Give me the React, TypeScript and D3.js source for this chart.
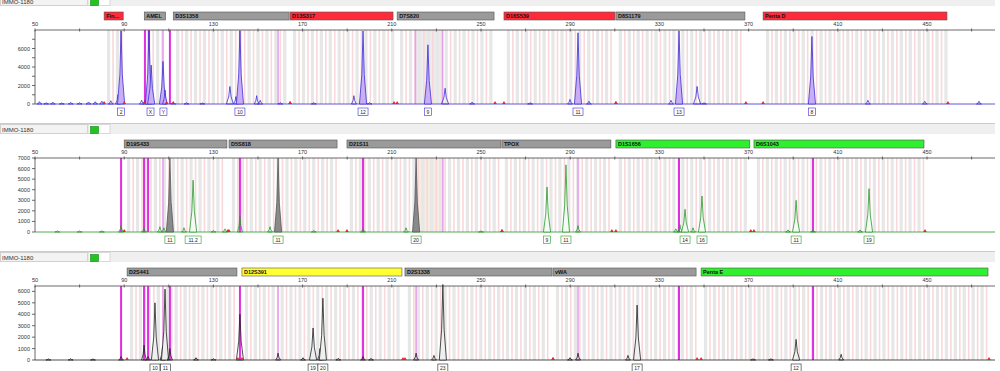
import * as d3 from "d3";

const W = 1000;
const H = 371;
const font = "Liberation Sans, Arial, sans-serif";

// [name, start bp, end bp, colour]
const blueLoci: [string, number, number, string][] = [
  ["Fin...", 81, 90, "red"],
  ["AMEL", 99, 109, "gray"],
  ["D3S1358", 112, 164.4, "gray"],
  ["D13S317", 164.4, 211, "red"],
  ["D7S820", 212.4, 256.3, "gray"],
  ["D16S539", 260.3, 310.5, "red"],
  ["D8S1179", 310.5, 368.8, "gray"],
  ["Penta D", 376.5, 459.4, "red"],
];
const greenLoci: [string, number, number, string][] = [
  ["D19S433", 90, 136.5, "gray"],
  ["D5S818", 137, 185.9, "gray"],
  ["D21S11", 189.9, 259.4, "gray"],
  ["TPOX", 259.4, 308.7, "gray"],
  ["D1S1656", 310.5, 371, "green"],
  ["D6S1043", 372.4, 449.1, "green"],
];
const blackLoci: [string, number, number, string][] = [
  ["D2S441", 91.3, 141, "gray"],
  ["D12S391", 142.8, 215, "yellow"],
  ["D2S1338", 215.9, 282.3, "gray"],
  ["vWA", 282.3, 346.9, "gray"],
  ["Penta E", 348.7, 477.8, "green"],
];

// peaks: [size bp, height RFU]
const bluePeaks: [number, number][] = [
  [52, 250], [55, 150], [58, 200], [62, 120], [66, 180], [70, 150], [74, 220], [77, 250],
  [80, 300], [84, 350], [87.2, 1000], [88.6, 7900], [97.8, 400], [99.3, 400], [101.1, 7900],
  [102.1, 4200], [107.4, 4600], [108.3, 1500], [112, 200], [118, 150], [125, 120],
  [137.4, 1900], [140.1, 800], [141.9, 7900], [149.4, 900], [151, 400], [160, 150],
  [175, 150], [193, 900], [197.1, 7900], [200, 150], [226.2, 6400], [233.9, 1700],
  [246, 200], [272, 150], [289.9, 500], [293.5, 7700], [298.4, 300], [335.2, 400],
  [338.8, 7900], [346.9, 1900], [350, 150], [398.4, 7300], [423.5, 400], [449, 300], [473.3, 300],
];
const greenPeaks: [number, number][] = [
  [60, 120], [70, 100], [80, 120], [88.6, 600], [98.9, 400], [106, 500], [107.8, 400],
  [110.5, 7000], [116.8, 400], [120.9, 4900], [130, 150], [135.2, 300], [141.9, 1500],
  [155.4, 500], [159, 7000], [175, 150], [197.1, 300], [216.4, 400], [220.9, 7000],
  [250, 120], [279.6, 4250], [288.1, 6350], [293.5, 600], [337.4, 300], [339.2, 700],
  [341.5, 2150], [345.1, 400], [349.1, 3400], [387.7, 200], [391.3, 3000], [398.9, 200],
  [420, 200], [424, 4100],
];
const blackPeaks: [number, number][] = [
  [56, 100], [66, 120], [76, 100], [88.6, 300], [98.9, 1300], [100.7, 300], [103.8, 5000],
  [107.2, 1200], [108.3, 6200], [110.5, 1000], [122.2, 200], [130, 120], [141.9, 4000],
  [159, 600], [170.2, 200], [174.7, 2800], [177.8, 1000], [179.1, 5400], [186, 150],
  [197.1, 300], [200.7, 150], [220.9, 600], [228.9, 400], [232.9, 6600], [289.9, 200],
  [293.5, 600], [315.9, 400], [320, 4800], [372, 120], [380, 120], [391.3, 1800], [411.5, 500],
];

// allele calls: [size bp, label]
const blueCalls: [number, string][] = [
  [88.6, "2"], [101.8, "X"], [107.6, "Y"], [141.9, "10"], [197.1, "12"],
  [226.2, "9"], [293.5, "11"], [338.8, "13"], [398.4, "8"],
];
const greenCalls: [number, string][] = [
  [110.5, "11"], [120.9, "11.2"], [159, "11"], [220.9, "20"], [279.6, "9"],
  [288.1, "11"], [341.5, "14"], [349.1, "16"], [391.3, "11"], [424, "19"],
];
const blackCalls: [number, string][] = [
  [103.8, "10"], [108.5, "11"], [174.7, "19"], [179.1, "20"], [232.9, "23"],
  [320, "17"], [391.3, "12"],
];

// size-standard lines: [size bp, strong]
const blueLines: [number, boolean][] = [
  [88.6, false], [99.3, true], [101.1, true], [107.4, false], [110.5, true],
  [141.9, false], [159, false], [220.6, false], [232.8, false],
];
const greenLines: [number, boolean][] = [
  [88.6, true], [98.9, true], [100.7, true], [107.4, false], [141.9, true],
  [197.1, true], [232.9, false], [293.5, false], [338.8, true], [398.9, true],
];
const blackLines: [number, boolean][] = [
  [88.6, true], [98.9, true], [100.7, true], [107.4, false], [110.5, true], [141.9, true],
  [159, false], [197.1, true], [220.9, false], [293.5, false], [338.8, true], [398.9, true],
];

// pull-up peaks drawn grey in the green dye
const greenPullUps = [110.5, 159, 220.9];

const blueTicks = [0, 1000, 2000, 3000, 4000, 5000, 6000, 7000];
const greenTicks = [0, 1000, 2000, 3000, 4000, 5000, 6000, 7000];
const blackTicks = [0, 1000, 2000, 3000, 4000, 5000, 6000];
const sizeTicks = [50, 70, 90, 110, 130, 150, 170, 190, 210, 230, 250, 270, 290, 310, 330, 350, 370, 390, 410, 430, 450, 470];

const locusColors: Record<string, string> = {
  red: "#ff2b3a",
  gray: "#9a9a9a",
  green: "#2ef02e",
  yellow: "#ffff33",
};

const x = d3.scaleLinear().domain([50, 450]).range([35, 927]);

const Panel = ({ top, loci, peaks, calls, lines, ticks, yMax, labelEvery, stroke, pullUps, callFill, highlight }) => {
  const axisY = top;
  const baseY = top + 74;
  const y = d3.scaleLinear().domain([0, yMax]).range([baseY, axisY]);

  const peakArea = d3
    .area<[number, number]>()
    .x((d) => x(d[0]))
    .y0(baseY)
    .y1((d) => y(d[1]));

  // bins every repeat unit inside each locus
  const bins: { bp: number; pink: boolean }[] = [];
  loci.forEach(([, s, e]) => {
    for (let b = s + 2; b < e - 0.5; b += 2) bins.push({ bp: b, pink: Math.round((b - s - 2) / 2) % 2 === 1 });
  });

  const isCalled = (bp) => calls.some((c) => Math.abs(c[0] - bp) < 0.8);
  const isPull = (bp) => pullUps.some((p) => Math.abs(p - bp) < 0.5);

  return (
    <g>
      {/* header strip */}
      <rect x={0} y={top - 35} width={995} height={1.5} fill="#a6dcdc" />
      <rect x={0} y={top - 34} width={995} height={10} fill="#efefef" />
      <rect x={0.5} y={top - 33.5} width={87} height={9} fill="#f3f3f3" stroke="#d0d0d0" />
      <text x={2} y={top - 26.5} fontSize={6} fill="#333" fontFamily={font}>IMMO-1180</text>
      <rect x={88} y={top - 33.5} width={22} height={9} fill="#fff" stroke="#d8d8d8" />
      <rect x={90.5} y={top - 31.5} width={8} height={7} fill="#22c322" stroke="#118811" strokeWidth={0.6} />

      {/* locus bars */}
      {loci.map(([name, s, e, c]) => (
        <g key={name}>
          <rect x={x(s)} y={top - 18} width={x(e) - x(s) - 1} height={8} fill={locusColors[c]} stroke="#555" strokeWidth={0.6} />
          <text x={x(s) + 2} y={top - 11.6} fontSize={5.5} fontWeight="bold" fill="#111" fontFamily={font}>{name}</text>
        </g>
      ))}

      {/* bins */}
      {highlight && (
        <rect x={x(highlight[0])} y={axisY} width={x(highlight[1]) - x(highlight[0])} height={74} fill={highlight[2]} />
      )}
      {bins.map((b, i) => (
        <rect key={i} x={x(b.bp) - (b.pink ? 0.8 : 1.6)} y={axisY} width={b.pink ? 1.6 : 3.2} height={74}
          fill={b.pink ? "#f8d8da" : "#e7e7e7"} />
      ))}

      {/* size standard lines */}
      {lines.map(([bp, strong], i) => (
        <line key={i} x1={x(bp)} x2={x(bp)} y1={axisY} y2={baseY} stroke={strong ? "#e02ee0" : "#e6a2ee"} strokeWidth={strong ? 2 : 1.6} />
      ))}

      {/* x axis */}
      <line x1={35} x2={995} y1={axisY} y2={axisY} stroke="#444" strokeWidth={0.8} />
      {sizeTicks.map((t) => (
        <g key={t}>
          <line x1={x(t)} x2={x(t)} y1={axisY - 1.5} y2={axisY + 1.5} stroke="#444" strokeWidth={0.8} />
          {(t - 50) % 40 === 0 && (
            <text x={x(t)} y={axisY - 4} fontSize={5.5} textAnchor="middle" fill="#333" fontFamily={font}>{t}</text>
          )}
        </g>
      ))}

      {/* y axis */}
      <line x1={35} x2={35} y1={axisY} y2={baseY} stroke="#444" strokeWidth={0.8} />
      {ticks.map((t) => (
        <g key={t}>
          <line x1={32} x2={35} y1={y(t)} y2={y(t)} stroke="#444" strokeWidth={0.8} />
          {t % labelEvery === 0 && (
            <text x={30} y={y(t) + 2} fontSize={5.5} textAnchor="end" fill="#333" fontFamily={font}>{t}</text>
          )}
        </g>
      ))}

      {/* trace */}
      <line x1={35} x2={995} y1={baseY} y2={baseY} stroke={stroke} strokeWidth={0.8} />
      {peaks.map(([bp, h], i) => {
        const w = h > 1500 ? 1.6 : 1.1;
        const pts: [number, number][] = [[bp - w, 0], [bp - w * 0.35, h * 0.4], [bp, h], [bp + w * 0.35, h * 0.4], [bp + w, 0]];
        const pull = isPull(bp);
        return (
          <path key={i} d={peakArea(pts) || ""} fill={pull ? "#8a8a8a" : isCalled(bp) ? callFill : "none"}
            stroke={pull ? "#555" : stroke} strokeWidth={0.8} />
        );
      })}

      {/* off-ladder markers at locus edges */}
      {loci.flatMap(([, s, e]) => [s, e]).map((bp, i) => (
        <path key={i} d={`M${x(bp) - 1.8},${baseY} L${x(bp)},${baseY - 3} L${x(bp) + 1.8},${baseY} Z`} fill="#ee2222" />
      ))}

      {/* allele labels */}
      {calls.map(([bp, label]) => {
        const bw = label.length * 3 + 4;
        return (
          <g key={bp + label}>
            <rect x={x(bp) - bw / 2} y={baseY + 4} width={bw} height={7.5} fill="#fff" stroke={stroke} strokeWidth={0.6} />
            <text x={x(bp)} y={baseY + 9.8} fontSize={5} textAnchor="middle" fill="#222" fontFamily={font}>{label}</text>
          </g>
        );
      })}
    </g>
  );
};

export default function App() {
  return (
    <svg width={W} height={H} style={{ position: "absolute", left: 0, top: 0, background: "#fff" }}>
      <Panel top={30} loci={blueLoci} peaks={bluePeaks} calls={blueCalls} lines={blueLines} ticks={blueTicks}
        yMax={8000} labelEvery={2000} stroke="#3d2ed6" pullUps={[]} callFill="#c9aef6" highlight={[220.6, 232.8, "#ececec"]} />
      <Panel top={158} loci={greenLoci} peaks={greenPeaks} calls={greenCalls} lines={greenLines} ticks={greenTicks}
        yMax={7000} labelEvery={1000} stroke="#2a9a2a" pullUps={greenPullUps} callFill="#f4fbf4" highlight={[220.6, 232.8, "#f6ede2"]} />
      <Panel top={286} loci={blackLoci} peaks={blackPeaks} calls={blackCalls} lines={blackLines} ticks={blackTicks}
        yMax={6470} labelEvery={1000} stroke="#222" pullUps={[]} callFill="#efefef" highlight={null} />
    </svg>
  );
}
